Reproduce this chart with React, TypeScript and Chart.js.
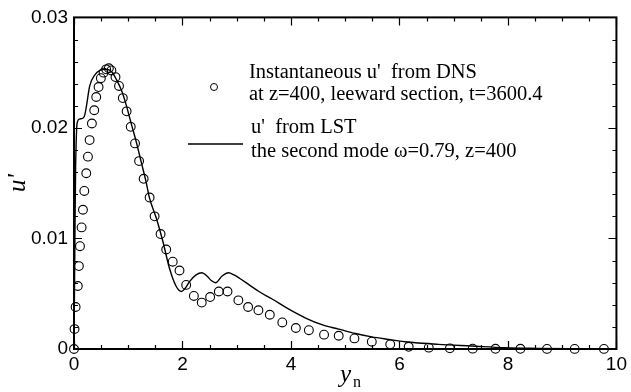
import React, { useEffect, useRef } from "react";
import { Chart, registerables } from "chart.js";

Chart.register(...registerables);

// DNS (circles)
const dnsX = [0, 0.01, 0.03, 0.07, 0.09, 0.11, 0.14, 0.165, 0.19, 0.226, 0.257, 0.288, 0.33, 0.373, 0.41, 0.453, 0.495, 0.545, 0.593, 0.642, 0.69, 0.765, 0.83, 0.9, 0.97, 1.046, 1.125, 1.2, 1.284, 1.394, 1.486, 1.596, 1.70, 1.82, 1.945, 2.068, 2.21, 2.355, 2.51, 2.67, 2.83, 3.03, 3.21, 3.40, 3.61, 3.84, 4.09, 4.33, 4.61, 4.88, 5.17, 5.49, 5.83, 6.17, 6.54, 6.93, 7.35, 7.77, 8.23, 8.72, 9.23, 9.77];
const dnsY = [0, 0.0018, 0.0038, 0.0057, 0.0075, 0.0093, 0.011, 0.0126, 0.0143, 0.0159, 0.0174, 0.0189, 0.0204, 0.0216, 0.0228, 0.0237, 0.0245, 0.025, 0.0253, 0.0254, 0.0252, 0.0246, 0.0238, 0.0227, 0.0215, 0.0201, 0.0186, 0.017, 0.0154, 0.0137, 0.012, 0.0104, 0.009, 0.0079, 0.0071, 0.0058, 0.0048, 0.0042, 0.0047, 0.0052, 0.0052, 0.0044, 0.0038, 0.0035, 0.0031, 0.0024, 0.0019, 0.0017, 0.0013, 0.0012, 0.00096, 0.00066, 0.00042, 0.0002, 0.00012, 0.00006, 0.00003, 0.00002, 0.00002, 0.00001, 0.00001, 0.00001];

// LST (line)
const lstX = [0, 0.01, 0.02, 0.03, 0.045, 0.06, 0.1, 0.17, 0.2, 0.23, 0.29, 0.385, 0.477, 0.6, 0.69, 0.78, 0.875, 0.967, 1.06, 1.15, 1.24, 1.33, 1.39, 1.52, 1.64, 1.76, 1.88, 1.98, 2.05, 2.13, 2.25, 2.36, 2.45, 2.53, 2.61, 2.73, 2.85, 2.95, 3.05, 3.23, 3.41, 3.66, 3.96, 4.27, 4.57, 4.88, 5.19, 5.49, 5.8, 6.1, 6.72, 7.33, 7.94, 8.55, 9.16, 10];
const lstY = [0, 0.006, 0.012, 0.0165, 0.0195, 0.0205, 0.0208, 0.0209, 0.0212, 0.022, 0.0238, 0.0248, 0.0252, 0.0253, 0.0251, 0.0244, 0.0234, 0.022, 0.0203, 0.0187, 0.0169, 0.0151, 0.0137, 0.0118, 0.0097, 0.0073, 0.0057, 0.0052, 0.0055, 0.0061, 0.0067, 0.0069, 0.0066, 0.0062, 0.006, 0.0066, 0.0069, 0.0067, 0.0064, 0.0058, 0.0052, 0.0045, 0.0036, 0.0028, 0.0022, 0.0018, 0.0014, 0.0011, 0.00087, 0.00066, 0.00042, 0.00027, 0.00012, 0.00006, 0.00002, 0];

const xTicks = [0, 2, 4, 6, 8, 10];
const yTicks = [0, 0.01, 0.02, 0.03];
const xMinor = 0.5;
const yMinor = 0.002;

const legendDNS = ["Instantaneous u'  from DNS", "at z=400, leeward section, t=3600.4"];
const legendLST = ["u'  from LST", "the second mode \u03c9=0.79, z=400"];
const yTitle = "u'";
const xTitleMain = "y";
const xTitleSub = "n";

const SERIF = '"Liberation Serif", "Times New Roman", serif';
const SANS = '"Liberation Sans", Arial, sans-serif';

const framePlugin = {
  id: "frame",
  afterDraw(chart: any) {
    const { ctx, chartArea: a, scales } = chart;
    const xs = scales.x;
    const ys = scales.y;
    ctx.save();
    ctx.strokeStyle = "#000";
    ctx.fillStyle = "#000";
    // ticks (inward, all four sides)
    ctx.lineWidth = 1.2;
    ctx.beginPath();
    for (let v = 0; v <= 10 + 1e-9; v += xMinor) {
      const px = Math.round(xs.getPixelForValue(v)) + 0.5;
      const major = xTicks.some((t) => Math.abs(t - v) < 1e-9);
      const len = major ? 8 : 4;
      ctx.moveTo(px, a.bottom);
      ctx.lineTo(px, a.bottom - len);
      ctx.moveTo(px, a.top);
      ctx.lineTo(px, a.top + len);
    }
    for (let v = 0; v <= 0.03 + 1e-9; v += yMinor) {
      const py = Math.round(ys.getPixelForValue(v)) + 0.5;
      const major = yTicks.some((t) => Math.abs(t - v) < 1e-9);
      const len = major ? 8 : 4;
      ctx.moveTo(a.left, py);
      ctx.lineTo(a.left + len, py);
      ctx.moveTo(a.right, py);
      ctx.lineTo(a.right - len, py);
    }
    ctx.stroke();
    // frame
    ctx.lineWidth = 2;
    ctx.strokeRect(a.left, a.top, a.right - a.left, a.bottom - a.top);

    // legend
    ctx.textBaseline = "alphabetic";
    ctx.textAlign = "left";
    ctx.font = `20.5px ${SERIF}`;
    ctx.fillText(legendDNS[0], 249, 78);
    ctx.fillText(legendDNS[1], 249, 100);
    ctx.lineWidth = 1;
    ctx.beginPath();
    ctx.arc(214, 87, 3.5, 0, Math.PI * 2);
    ctx.stroke();

    ctx.fillText(legendLST[0], 251, 133);
    ctx.fillText(legendLST[1], 251, 157);
    ctx.lineWidth = 1.3;
    ctx.beginPath();
    ctx.moveTo(188, 144);
    ctx.lineTo(243, 144);
    ctx.stroke();

    // y title
    ctx.save();
    ctx.translate(25, 183);
    ctx.rotate(-Math.PI / 2);
    ctx.textAlign = "center";
    ctx.font = `italic 25px ${SERIF}`;
    ctx.fillText(yTitle, 0, 0);
    ctx.restore();

    // x title
    ctx.font = `italic 25px ${SERIF}`;
    ctx.fillText(xTitleMain, 340, 382);
    ctx.font = `16px ${SERIF}`;
    ctx.fillText(xTitleSub, 353, 387);
    ctx.restore();
  },
};

export default function App() {
  const ref = useRef<HTMLCanvasElement>(null);
  useEffect(() => {
    document.body.style.margin = "0";
    const canvas = ref.current!;
    const chart = new Chart(canvas, {
      type: "scatter",
      data: {
        datasets: [
          {
            label: "DNS",
            data: dnsX.map((x, i) => ({ x, y: dnsY[i] })),
            showLine: false,
            pointStyle: "circle",
            pointRadius: 4.4,
            pointBorderWidth: 1.1,
            pointBorderColor: "#000",
            pointBackgroundColor: "rgba(0,0,0,0)",
            clip: false as any,
          },
          {
            label: "LST",
            data: lstX.map((x, i) => ({ x, y: lstY[i] })),
            showLine: true,
            pointRadius: 0,
            borderColor: "#000",
            borderWidth: 1.4,
            cubicInterpolationMode: "monotone",
            clip: false as any,
          },
        ],
      },
      options: {
        animation: false,
        responsive: false,
        events: [],
        layout: { padding: { top: 14, right: 12, left: 0, bottom: 0 } },
        plugins: { legend: { display: false }, tooltip: { enabled: false } },
        scales: {
          x: {
            type: "linear",
            min: 0,
            max: 10,
            grid: { display: false, drawTicks: false },
            border: { display: false },
            afterFit: (s: any) => {
              s.height = 43;
            },
            afterBuildTicks: (s: any) => {
              s.ticks = xTicks.map((v) => ({ value: v }));
            },
            ticks: {
              padding: 4,
              color: "#000",
              font: { family: SANS, size: 19 },
              maxRotation: 0,
              callback: (v: any) => String(v),
            },
          },
          y: {
            type: "linear",
            min: 0,
            max: 0.03,
            grid: { display: false, drawTicks: false },
            border: { display: false },
            afterFit: (s: any) => {
              s.width = 74;
            },
            afterBuildTicks: (s: any) => {
              s.ticks = yTicks.map((v) => ({ value: v }));
            },
            ticks: {
              padding: 6,
              color: "#000",
              font: { family: SANS, size: 19 },
              callback: (v: any) => (Number(v) === 0 ? "0" : Number(v).toFixed(2)),
            },
          },
        },
      },
      plugins: [framePlugin],
    });
    return () => chart.destroy();
  }, []);
  return <canvas ref={ref} width={631} height={392} style={{ display: "block" }} />;
}
